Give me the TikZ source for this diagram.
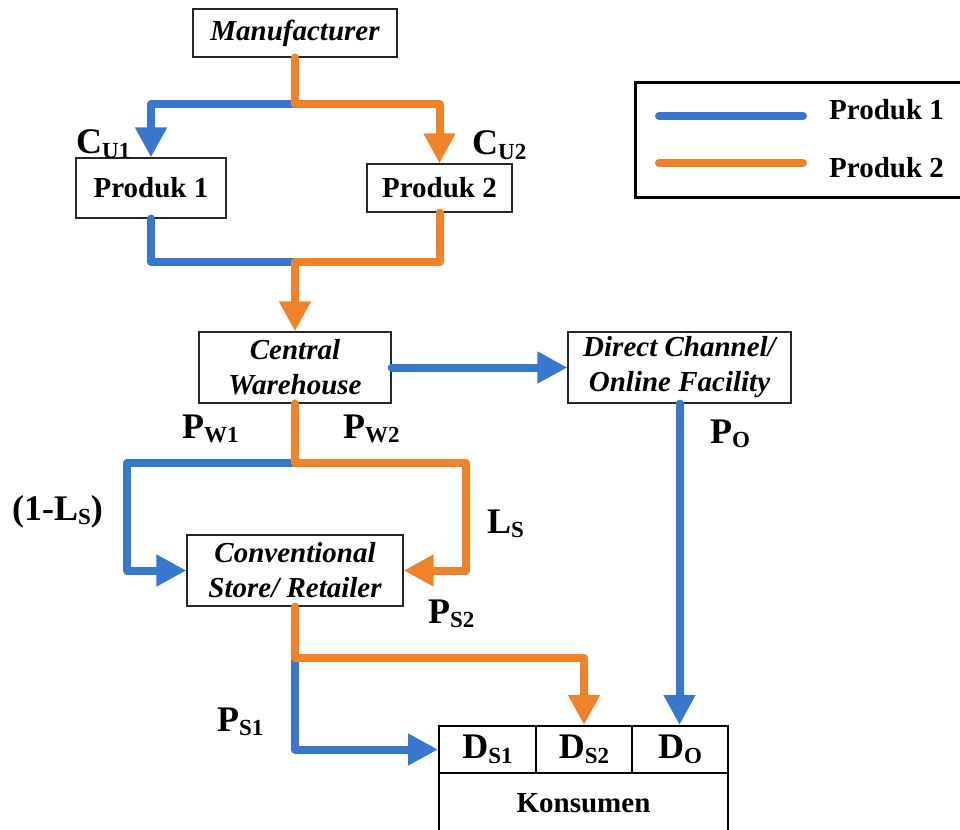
\documentclass[tikz,border=0pt]{standalone}
\usepackage{fontspec}
\setmainfont{Liberation Serif}
\usetikzlibrary{arrows.meta}
\definecolor{pblue}{RGB}{55,119,206}
\definecolor{porange}{RGB}{240,131,42}
% symbol with a lowered, smaller index
\newcommand{\subl}[2]{#1\raisebox{-4.5pt}{\fontsize{23}{23}\selectfont #2}}

\begin{document}
\begin{tikzpicture}[x=1pt,y=-1pt,
  box/.style={draw=black!85, line width=1.2pt, inner sep=0pt, align=center,
              font=\fontsize{29}{35}\selectfont\bfseries},
  ibox/.style={box, font=\fontsize{29}{35}\selectfont\bfseries\itshape},
  cell/.style={draw=black, line width=2pt, inner sep=0pt,
               font=\fontsize{36}{36}\selectfont\bfseries},
  lbl/.style={anchor=base west, inner sep=0pt, font=\fontsize{36}{36}\selectfont\bfseries},
  legtext/.style={anchor=base west, inner sep=0pt, font=\fontsize{29}{29}\selectfont\bfseries},
  flow/.style={line width=8pt, line cap=round, line join=round},
  p1/.style={flow, draw=pblue},
  p2/.style={flow, draw=porange},
  tip/.style={-{Triangle[width=30pt,length=30pt]}}
]
\clip (0,0) rectangle (960,829);

% boxes
\node[ibox, minimum width=204pt, minimum height=48pt] (man) at (295,33) {Manufacturer};
\node[box, minimum width=150pt, minimum height=60pt] (prod1) at (151,188) {Produk 1};
\node[box, minimum width=145pt, minimum height=48pt] (prod2) at (439.5,188) {Produk 2};
\node[ibox, minimum width=192pt, minimum height=71pt] (wh) at (295,367.5) {Central\\Warehouse};
\node[ibox, minimum width=223pt, minimum height=71pt] (dc) at (679.5,367.5) {Direct Channel/\\Online Facility};
\node[ibox, minimum width=216pt, minimum height=71pt] (st) at (295,570.5) {Conventional\\Store/ Retailer};

% consumer block
\node[cell, minimum width=97pt, minimum height=47pt] (ds1) at (487.5,749.5) {\subl{D}{S1}};
\node[cell, minimum width=96pt, minimum height=47pt] (ds2) at (584,749.5) {\subl{D}{S2}};
\node[cell, minimum width=96pt, minimum height=47pt] (do) at (680,749.5) {\subl{D}{O}};
\node[cell, minimum width=289pt, minimum height=60pt,
      font=\fontsize{29}{29}\selectfont\bfseries] (kons) at (583.5,803) {Konsumen};

% junctions and corners
\coordinate (j1) at (295,104);
\coordinate (j2) at (295,262);
\coordinate (j3) at (295,463);
\coordinate (j4) at (295,658);
\coordinate (c4) at (127,463);
\coordinate (c5) at (466,463);

% product 1 flows
\draw[p1,tip] (j1) -| (prod1.north);
\draw[p1] (prod1.south) |- (j2);
\draw[p1,tip] (wh.east) -- (dc.west);
\draw[p1,tip] (j3) -- (c4) |- (st.west);
\draw[p1,tip] (j4) |- (ds1.west);
\draw[p1,tip] (dc.south) -- (dc.south |- do.north);

% product 2 flows
\draw[p2,tip] (man.south) -- (j1) -| (prod2.north);
\draw[p2,tip] (prod2.south) |- (j2) -- (wh.north);
\draw[p2,tip] (wh.south) -- (j3) -- (c5) |- (st.east);
\draw[p2,tip] (st.south) -- (j4) -| (ds2.north);

% flow labels
\node[lbl] (cu1) at (76,154) {\subl{C}{U1}};
\node[lbl] (cu2) at (472,155) {\subl{C}{U2}};
\node[lbl] (pw1) at (182,438) {\subl{P}{W1}};
\node[lbl] (pw2) at (343,438) {\subl{P}{W2}};
\node[lbl] (ls1) at (12,520) {(1-\subl{L}{S})};
\node[lbl] (ls) at (487,533) {\subl{L}{S}};
\node[lbl] (ps2) at (428,623) {\subl{P}{S2}};
\node[lbl] (ps1) at (217,731) {\subl{P}{S1}};
\node[lbl] (po) at (710,443) {\subl{P}{O}};

% legend
\node[draw=black, line width=3pt, minimum width=354.5pt, minimum height=115pt] (leg) at (812.75,140) {};
\coordinate (l1a) at (659,116);
\coordinate (l1b) at (803,116);
\coordinate (l2a) at (659,163);
\coordinate (l2b) at (803,163);
\draw[p1] (l1a) -- (l1b);
\draw[p2] (l2a) -- (l2b);
\node[legtext] (leg1) at (829,120) {Produk 1};
\node[legtext] (leg2) at (829,178) {Produk 2};
\end{tikzpicture}
\end{document}
